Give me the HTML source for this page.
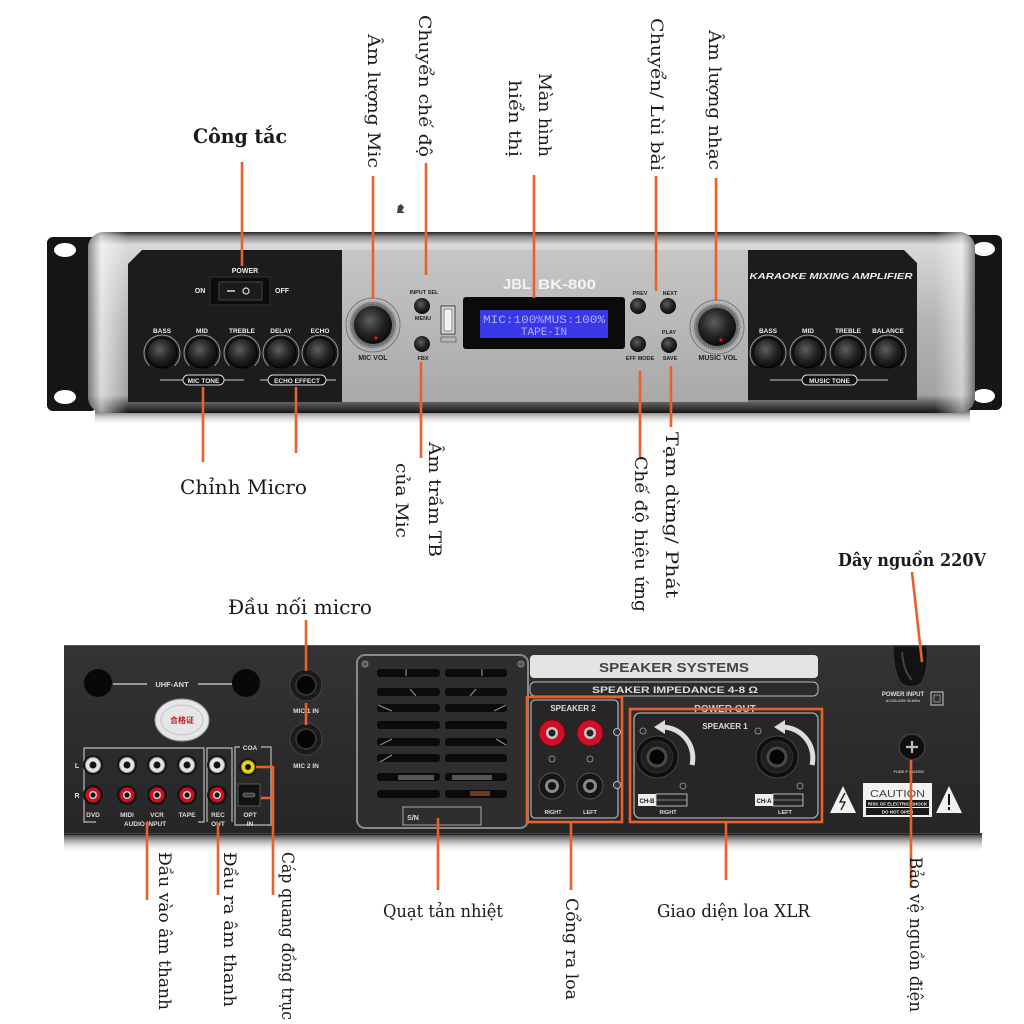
<!DOCTYPE html>
<html><head><meta charset="utf-8">
<style>html,body{margin:0;padding:0;background:#fff}svg{display:block}</style>
</head><body>
<svg width="1024" height="1024" viewBox="0 0 1024 1024" xmlns="http://www.w3.org/2000/svg">
<defs>
 <radialGradient id="knob" cx="42%" cy="38%" r="65%"><stop offset="0" stop-color="#5e5e5e"/><stop offset="0.55" stop-color="#252525"/><stop offset="1" stop-color="#080808"/></radialGradient>
 <linearGradient id="body" x1="0" y1="0" x2="0" y2="1">
  <stop offset="0" stop-color="#222"/><stop offset="0.025" stop-color="#8a8a8a"/><stop offset="0.07" stop-color="#d9d9d9"/><stop offset="0.5" stop-color="#b4b4b4"/><stop offset="0.9" stop-color="#a2a2a2"/><stop offset="0.95" stop-color="#555"/><stop offset="1" stop-color="#151515"/>
 </linearGradient>
 <linearGradient id="ends" x1="0" y1="0" x2="1" y2="0">
  <stop offset="0" stop-color="#666" stop-opacity="0.7"/><stop offset="0.015" stop-color="#fff" stop-opacity="0.6"/><stop offset="0.045" stop-color="#fff" stop-opacity="0"/><stop offset="0.955" stop-color="#fff" stop-opacity="0"/><stop offset="0.985" stop-color="#fff" stop-opacity="0.5"/><stop offset="1" stop-color="#555" stop-opacity="0.7"/>
 </linearGradient>
 <linearGradient id="center" x1="0" y1="0" x2="0" y2="1"><stop offset="0" stop-color="#c6c6c6"/><stop offset="1" stop-color="#a9a9a9"/></linearGradient>
 <linearGradient id="shadowF" x1="0" y1="0" x2="0" y2="1"><stop offset="0" stop-color="#333" stop-opacity="0.8"/><stop offset="1" stop-color="#fff" stop-opacity="0"/></linearGradient>
 <linearGradient id="rear" x1="0" y1="0" x2="0" y2="1"><stop offset="0" stop-color="#343434"/><stop offset="0.5" stop-color="#2c2c2c"/><stop offset="1" stop-color="#262626"/></linearGradient>
 <linearGradient id="shadowR" x1="0" y1="0" x2="0" y2="1"><stop offset="0" stop-color="#111" stop-opacity="0.95"/><stop offset="1" stop-color="#fff" stop-opacity="0"/></linearGradient>
</defs>

<rect width="1024" height="1024" fill="#fff"/>

<!-- ================= FRONT PANEL ================= -->
<!-- rack ears -->
<rect x="47" y="237" width="50" height="174" rx="6" fill="#151515"/>
<ellipse cx="65" cy="250" rx="11" ry="7" fill="#fff"/>
<ellipse cx="65" cy="397" rx="11" ry="7" fill="#fff"/>
<rect x="948" y="235" width="54" height="175" rx="6" fill="#151515"/>
<ellipse cx="984" cy="249" rx="11" ry="7" fill="#fff"/>
<ellipse cx="984" cy="396" rx="11" ry="7" fill="#fff"/>
<!-- shadow under front -->
<rect x="95" y="410" width="875" height="16" fill="url(#shadowF)"/>
<!-- body -->
<rect x="88" y="232" width="887" height="181" rx="16" fill="url(#body)"/>
<rect x="88" y="232" width="887" height="181" rx="16" fill="url(#ends)"/>
<!-- center silver -->
<rect x="342" y="250" width="406" height="152" fill="url(#center)"/>
<!-- black panels -->
<path d="M142,250 H342 V402 H128 V264 Z" fill="#1c1c1c"/>
<path d="M748,250 H904 L917,263 V400 H748 Z" fill="#1c1c1c"/>

<g font-family="Liberation Sans, sans-serif" font-weight="bold" text-anchor="middle">
 <!-- power -->
 <text x="245" y="273" font-size="7" fill="#eee">POWER</text>
 <text x="200" y="293" font-size="7" fill="#eee">ON</text>
 <text x="282" y="293" font-size="7" fill="#eee">OFF</text>
 <rect x="210" y="277" width="60" height="28" fill="#0c0c0c" stroke="#333"/>
 <rect x="219" y="282" width="43" height="18" fill="#1b1b1b" stroke="#444"/>
 <line x1="227" y1="291" x2="235" y2="291" stroke="#ddd" stroke-width="1.5"/>
 <circle cx="246" cy="291" r="3" fill="none" stroke="#ddd" stroke-width="1.2"/>
 <!-- left tone knobs -->
 <g font-size="6.5" fill="#eee">
  <text x="162" y="333">BASS</text><text x="202" y="333">MID</text><text x="242" y="333">TREBLE</text><text x="281" y="333">DELAY</text><text x="320" y="333">ECHO</text>
 </g>
 <g fill="none" stroke="#999" stroke-width="1">
  <path d="M149.3,365.7 A18,18 0 1 1 174.7,365.7"/>
  <path d="M189.3,365.7 A18,18 0 1 1 214.7,365.7"/>
  <path d="M229.3,365.7 A18,18 0 1 1 254.7,365.7"/>
  <path d="M268.3,365.7 A18,18 0 1 1 293.7,365.7"/>
  <path d="M307.3,365.7 A18,18 0 1 1 332.7,365.7"/>
 </g>
 <g fill="url(#knob)" stroke="#000">
  <circle cx="162" cy="353" r="15"/><circle cx="202" cy="353" r="15"/><circle cx="242" cy="353" r="15"/><circle cx="281" cy="353" r="15"/><circle cx="320" cy="353" r="15"/>
 </g>
 <g stroke="#ccc" stroke-width="1">
  <line x1="160" y1="380" x2="183" y2="380"/><line x1="224" y1="380" x2="244" y2="380"/>
  <line x1="260" y1="380" x2="268" y2="380"/><line x1="326" y1="380" x2="336" y2="380"/>
 </g>
 <rect x="183" y="375" width="41" height="10" rx="5" fill="#111" stroke="#ddd"/>
 <text x="203.5" y="383" font-size="6.5" fill="#eee">MIC TONE</text>
 <rect x="268" y="375" width="58" height="10" rx="5" fill="#111" stroke="#ddd"/>
 <text x="297" y="383" font-size="6.5" fill="#eee">ECHO EFFECT</text>

 <!-- MIC VOL -->
 <circle cx="373" cy="325" r="27" fill="none" stroke="#777" stroke-width="1"/>
 <circle cx="373" cy="325" r="23" fill="#6d6d6d" stroke="#9a9a9a" stroke-width="4" stroke-dasharray="1 1.3"/>
 <circle cx="373" cy="325" r="19" fill="url(#knob)"/>
 <circle cx="376" cy="338" r="1.6" fill="#e11"/>
 <text x="373" y="360" font-size="7" fill="#222">MIC VOL</text>
 <!-- input sel / fbx -->
 <text x="424" y="294" font-size="5.5" fill="#222">INPUT SEL</text>
 <circle cx="422" cy="306" r="8" fill="url(#knob)"/>
 <text x="423" y="320" font-size="5.5" fill="#222">MENU</text>
 <circle cx="422" cy="344" r="8" fill="url(#knob)"/>
 <text x="423" y="360" font-size="5.5" fill="#222">FBX</text>
 <!-- USB -->
 <rect x="441" y="306" width="14" height="28" fill="#d8d8d8" stroke="#444"/>
 <rect x="444" y="309" width="8" height="22" fill="#f2f2f2" stroke="#888"/>
 <rect x="441" y="337" width="15" height="5" fill="none" stroke="#666" stroke-width="0.8"/>
 <!-- LCD -->
 <rect x="463" y="297" width="162" height="52" rx="3" fill="#0b0b0b"/>
 <rect x="480" y="310" width="128" height="28" fill="#3838e6"/>
 <text x="544" y="323" font-family="Liberation Mono, monospace" font-weight="normal" font-size="11" fill="#a9b2ff" textLength="122" lengthAdjust="spacingAndGlyphs">MIC:100%MUS:100%</text>
 <text x="544" y="335" font-family="Liberation Mono, monospace" font-weight="normal" font-size="11" fill="#a9b2ff">TAPE-IN</text>
 <text x="517" y="289" font-size="15" fill="#f2f2f2" textLength="28" lengthAdjust="spacingAndGlyphs">JBL</text>
 <text x="567" y="289" font-size="14" fill="#f5f5f5" textLength="58" lengthAdjust="spacingAndGlyphs">BK-800</text>
 <!-- prev/next -->
 <text x="640" y="295" font-size="5.5" fill="#222">PREV</text>
 <text x="670" y="295" font-size="5.5" fill="#222">NEXT</text>
 <circle cx="638" cy="306" r="8" fill="url(#knob)"/>
 <circle cx="668" cy="306" r="8" fill="url(#knob)"/>
 <text x="669" y="334" font-size="5.5" fill="#222">PLAY</text>
 <circle cx="638" cy="344" r="8" fill="url(#knob)"/>
 <circle cx="669" cy="345" r="8" fill="url(#knob)"/>
 <text x="640" y="360" font-size="5.5" fill="#222">EFF MODE</text>
 <text x="670" y="360" font-size="5.5" fill="#222">SAVE</text>
 <!-- MUSIC VOL -->
 <circle cx="717" cy="327" r="27" fill="none" stroke="#777" stroke-width="1"/>
 <circle cx="717" cy="327" r="23" fill="#6d6d6d" stroke="#9a9a9a" stroke-width="4" stroke-dasharray="1 1.3"/>
 <circle cx="717" cy="327" r="19" fill="url(#knob)"/>
 <circle cx="721" cy="340" r="1.6" fill="#e11"/>
 <text x="718" y="360" font-size="7" fill="#222">MUSIC VOL</text>
 <!-- right panel -->
 <text x="831" y="279" font-size="8.5" font-style="italic" fill="#eee" textLength="163" lengthAdjust="spacingAndGlyphs">KARAOKE MIXING AMPLIFIER</text>
 <g font-size="6.5" fill="#eee">
  <text x="768" y="333">BASS</text><text x="808" y="333">MID</text><text x="848" y="333">TREBLE</text><text x="888" y="333">BALANCE</text>
 </g>
 <g fill="none" stroke="#999" stroke-width="1">
  <path d="M755.3,365.7 A18,18 0 1 1 780.7,365.7"/>
  <path d="M795.3,365.7 A18,18 0 1 1 820.7,365.7"/>
  <path d="M835.3,365.7 A18,18 0 1 1 860.7,365.7"/>
  <path d="M875.3,365.7 A18,18 0 1 1 900.7,365.7"/>
 </g>
 <g fill="url(#knob)" stroke="#000">
  <circle cx="768" cy="353" r="15"/><circle cx="808" cy="353" r="15"/><circle cx="848" cy="353" r="15"/><circle cx="888" cy="353" r="15"/>
 </g>
 <line x1="770" y1="380" x2="802" y2="380" stroke="#ccc"/><line x1="857" y1="380" x2="888" y2="380" stroke="#ccc"/>
 <rect x="802" y="375" width="55" height="10" rx="5" fill="#111" stroke="#ddd"/>
 <text x="829.5" y="383" font-size="6.5" fill="#eee">MUSIC TONE</text>
</g>
<path d="M398,206 l3,-2 l3,3 l-2,4 l3,2 h-8 z" fill="#444"/>

<!-- ================= REAR PANEL ================= -->
<rect x="64" y="833" width="918" height="20" fill="url(#shadowR)"/>
<rect x="64" y="645" width="916" height="190" fill="url(#rear)"/>
<line x1="64" y1="645.5" x2="980" y2="645.5" stroke="#555"/>
<line x1="64" y1="833.5" x2="980" y2="833.5" stroke="#444"/>

<g font-family="Liberation Sans, sans-serif" font-weight="bold" text-anchor="middle" fill="#ddd">
 <!-- UHF -->
 <circle cx="98" cy="683" r="14" fill="#080808"/>
 <circle cx="246" cy="683" r="14" fill="#080808"/>
 <line x1="113" y1="684" x2="147" y2="684" stroke="#bbb" stroke-width="1.5"/>
 <line x1="198" y1="684" x2="232" y2="684" stroke="#bbb" stroke-width="1.5"/>
 <text x="172" y="687" font-size="7.5">UHF-ANT</text>
 <!-- sticker -->
 <ellipse cx="182" cy="720" rx="27" ry="21" fill="#e6e6e6" stroke="#999"/>
 <ellipse cx="182" cy="720" rx="21" ry="15" fill="none" stroke="#bbb" stroke-width="0.8"/>
 <text x="182" y="723" font-size="8" fill="#c01818" font-family="Noto Sans CJK SC, sans-serif">合格证</text>
 <!-- boxes -->
 <g fill="none" stroke="#bbb" stroke-width="1.2">
  <path d="M96,822 H84 V748 H204 V822 H198"/>
  <path d="M207,822 V748 H232 V822"/>
  <path d="M240,747 H235 V825 H271 V747 H261"/>
 </g>
 <text x="77" y="768" font-size="7">L</text>
 <text x="77" y="798" font-size="7">R</text>
 <!-- RCA white -->
 <g>
  <circle cx="93" cy="765" r="10" fill="#151515"/><circle cx="93" cy="765" r="7.5" fill="#e4e4e4" stroke="#999"/><circle cx="93" cy="765" r="3.5" fill="#111"/>
  <circle cx="127" cy="765" r="10" fill="#151515"/><circle cx="127" cy="765" r="7.5" fill="#e4e4e4" stroke="#999"/><circle cx="127" cy="765" r="3.5" fill="#111"/>
  <circle cx="157" cy="765" r="10" fill="#151515"/><circle cx="157" cy="765" r="7.5" fill="#e4e4e4" stroke="#999"/><circle cx="157" cy="765" r="3.5" fill="#111"/>
  <circle cx="187" cy="765" r="10" fill="#151515"/><circle cx="187" cy="765" r="7.5" fill="#e4e4e4" stroke="#999"/><circle cx="187" cy="765" r="3.5" fill="#111"/>
  <circle cx="217" cy="765" r="10" fill="#151515"/><circle cx="217" cy="765" r="7.5" fill="#e4e4e4" stroke="#999"/><circle cx="217" cy="765" r="3.5" fill="#111"/>
  <circle cx="248" cy="767" r="9" fill="#151515"/><circle cx="248" cy="767" r="6.5" fill="#e8d22a" stroke="#b09a10"/><circle cx="248" cy="767" r="3" fill="#111"/>
 </g>
 <!-- RCA red -->
 <g>
  <circle cx="93" cy="795" r="10" fill="#151515"/><circle cx="93" cy="795" r="7.5" fill="#cc1020"/><circle cx="93" cy="795" r="4" fill="#ddd"/><circle cx="93" cy="795" r="2.6" fill="#111"/>
  <circle cx="127" cy="795" r="10" fill="#151515"/><circle cx="127" cy="795" r="7.5" fill="#cc1020"/><circle cx="127" cy="795" r="4" fill="#ddd"/><circle cx="127" cy="795" r="2.6" fill="#111"/>
  <circle cx="157" cy="795" r="10" fill="#151515"/><circle cx="157" cy="795" r="7.5" fill="#cc1020"/><circle cx="157" cy="795" r="4" fill="#ddd"/><circle cx="157" cy="795" r="2.6" fill="#111"/>
  <circle cx="187" cy="795" r="10" fill="#151515"/><circle cx="187" cy="795" r="7.5" fill="#cc1020"/><circle cx="187" cy="795" r="4" fill="#ddd"/><circle cx="187" cy="795" r="2.6" fill="#111"/>
  <circle cx="217" cy="795" r="10" fill="#151515"/><circle cx="217" cy="795" r="7.5" fill="#cc1020"/><circle cx="217" cy="795" r="4" fill="#ddd"/><circle cx="217" cy="795" r="2.6" fill="#111"/>
 </g>
 <!-- optical -->
 <rect x="238" y="784" width="22" height="22" fill="#111" stroke="#555"/>
 <rect x="243" y="793" width="12" height="4" rx="2" fill="#444" stroke="#999" stroke-width="0.6"/>
 <g font-size="6.5">
  <text x="250" y="750">COA</text>
  <text x="93" y="817">DVD</text><text x="127" y="817">MIDI</text><text x="157" y="817">VCR</text><text x="187" y="817">TAPE</text>
  <text x="145" y="826">AUDIO INPUT</text>
  <text x="218" y="817">REC</text><text x="218" y="826">OUT</text>
  <text x="250" y="817">OPT</text><text x="250" y="826">IN</text>
 </g>
 <!-- MIC jacks -->
 <circle cx="306" cy="685" r="16" fill="#1b1b1b" stroke="#444"/>
 <circle cx="306" cy="685" r="10" fill="#050505" stroke="#333" stroke-width="2"/>
 <text x="306" y="713" font-size="6.5">MIC 1 IN</text>
 <circle cx="306" cy="739" r="16" fill="#1b1b1b" stroke="#444"/>
 <circle cx="306" cy="739" r="10" fill="#050505" stroke="#333" stroke-width="2"/>
 <text x="306" y="768" font-size="6.5">MIC 2 IN</text>

 <!-- fan grill -->
 <rect x="357" y="655" width="171" height="173" rx="8" fill="#2e2e2e" stroke="#8a8a8a" stroke-width="2"/>
 <circle cx="365" cy="664" r="3" fill="#555" stroke="#888"/>
 <circle cx="521" cy="664" r="3" fill="#555" stroke="#888"/>
 <g fill="#0b0b0b">
  <rect x="377" y="669" width="63" height="8" rx="3"/><rect x="445" y="669" width="62" height="8" rx="3"/>
  <rect x="377" y="688" width="63" height="8" rx="3"/><rect x="445" y="688" width="62" height="8" rx="3"/>
  <rect x="377" y="704" width="63" height="8" rx="3"/><rect x="445" y="704" width="62" height="8" rx="3"/>
  <rect x="377" y="721" width="63" height="8" rx="3"/><rect x="445" y="721" width="62" height="8" rx="3"/>
  <rect x="377" y="738" width="63" height="8" rx="3"/><rect x="445" y="738" width="62" height="8" rx="3"/>
  <rect x="377" y="754" width="63" height="8" rx="3"/><rect x="445" y="754" width="62" height="8" rx="3"/>
  <rect x="377" y="773" width="63" height="8" rx="3"/><rect x="445" y="773" width="62" height="8" rx="3"/>
  <rect x="377" y="790" width="63" height="8" rx="3"/><rect x="445" y="790" width="62" height="8" rx="3"/>
 </g>
 <g stroke="#8a8a8a" stroke-width="1.2">
  <line x1="406" y1="669" x2="406" y2="676"/><line x1="482" y1="669" x2="482" y2="676"/>
  <line x1="410" y1="689" x2="416" y2="696"/><line x1="470" y1="696" x2="476" y2="689"/>
  <line x1="378" y1="705" x2="392" y2="711"/><line x1="494" y1="711" x2="506" y2="705"/>
  <line x1="380" y1="745" x2="392" y2="739"/><line x1="496" y1="739" x2="506" y2="745"/>
  <line x1="380" y1="762" x2="392" y2="755"/>
 </g>
 <rect x="398" y="775" width="36" height="5" fill="#555"/><rect x="452" y="775" width="40" height="5" fill="#555"/>
 <rect x="470" y="791" width="20" height="5" fill="#6a3b20"/>
 <rect x="403" y="807" width="78" height="18" fill="none" stroke="#aaa"/>
 <text x="413" y="820" font-size="7" fill="#ddd">S/N</text>

 <!-- speaker systems -->
 <rect x="530" y="655" width="288" height="23" rx="4" fill="#e4e4e4"/>
 <text x="674" y="672" font-size="13" fill="#444" textLength="150" lengthAdjust="spacingAndGlyphs">SPEAKER SYSTEMS</text>
 <rect x="530" y="682" width="288" height="14" rx="5" fill="#2a2a2a" stroke="#bbb"/>
 <text x="675" y="693" font-size="9" fill="#ddd" textLength="166" lengthAdjust="spacingAndGlyphs">SPEAKER IMPEDANCE 4-8 Ω</text>

 <!-- speaker 2 -->
 <rect x="531" y="700" width="87" height="118" rx="4" fill="#262626" stroke="#aaa" stroke-width="1.3"/>
 <text x="573" y="711" font-size="8">SPEAKER 2</text>
 <circle cx="552" cy="733" r="13" fill="#d0102a" stroke="#7a0010"/><circle cx="552" cy="733" r="6" fill="#c8c8c8"/><circle cx="552" cy="733" r="3.5" fill="#222"/>
 <circle cx="590" cy="733" r="13" fill="#d0102a" stroke="#7a0010"/><circle cx="590" cy="733" r="6" fill="#c8c8c8"/><circle cx="590" cy="733" r="3.5" fill="#222"/>
 <circle cx="552" cy="759" r="3" fill="none" stroke="#888"/><circle cx="590" cy="759" r="3" fill="none" stroke="#888"/>
 <circle cx="552" cy="786" r="13" fill="#161616" stroke="#555"/><circle cx="552" cy="786" r="7" fill="#888"/><circle cx="552" cy="786" r="4" fill="#111"/>
 <circle cx="590" cy="786" r="13" fill="#161616" stroke="#555"/><circle cx="590" cy="786" r="7" fill="#888"/><circle cx="590" cy="786" r="4" fill="#111"/>
 <circle cx="617" cy="732" r="3.5" fill="#333" stroke="#bbb"/><circle cx="617" cy="785" r="3.5" fill="#333" stroke="#bbb"/>
 <text x="553" y="814" font-size="5.5">RIGHT</text><text x="590" y="814" font-size="5.5">LEFT</text>

 <!-- power out / speaker 1 -->
 <text x="725" y="712" font-size="10" fill="#ccc">POWER OUT</text>
 <rect x="634" y="713" width="184" height="105" rx="6" fill="#262626" stroke="#aaa" stroke-width="1.3"/>
 <text x="725" y="729" font-size="8">SPEAKER 1</text>
 <g>
  <circle cx="657" cy="757" r="21" fill="#0e0e0e" stroke="#444"/>
  <circle cx="657" cy="757" r="16" fill="#1f1f1f" stroke="#333"/>
  <circle cx="657" cy="757" r="9" fill="#050505" stroke="#4a4a4a" stroke-width="3"/>
  <path d="M663,727 A31,31 0 0 1 692,765" fill="none" stroke="#ddd" stroke-width="5"/>
  <path d="M654,727 L665,720 L665,734 Z" fill="#ddd"/>
  <circle cx="777" cy="757" r="21" fill="#0e0e0e" stroke="#444"/>
  <circle cx="777" cy="757" r="16" fill="#1f1f1f" stroke="#333"/>
  <circle cx="777" cy="757" r="9" fill="#050505" stroke="#4a4a4a" stroke-width="3"/>
  <path d="M783,727 A31,31 0 0 1 812,765" fill="none" stroke="#ddd" stroke-width="5"/>
  <path d="M774,727 L785,720 L785,734 Z" fill="#ddd"/>
  <circle cx="643" cy="731" r="3" fill="none" stroke="#888"/><circle cx="683" cy="786" r="3" fill="none" stroke="#888"/>
  <circle cx="758" cy="731" r="3" fill="none" stroke="#888"/><circle cx="800" cy="786" r="3" fill="none" stroke="#888"/>
 </g>
 <rect x="638" y="794" width="18" height="12" fill="#eee"/><text x="647" y="803" font-size="6" fill="#111">CH-B</text>
 <rect x="656" y="794" width="31" height="12" fill="none" stroke="#ddd" stroke-width="0.8"/>
 <line x1="656" y1="800" x2="687" y2="800" stroke="#ddd" stroke-width="0.6"/>
 <text x="668" y="814" font-size="5.5">RIGHT</text>
 <rect x="755" y="794" width="18" height="12" fill="#eee"/><text x="764" y="803" font-size="6" fill="#111">CH-A</text>
 <rect x="773" y="794" width="30" height="12" fill="none" stroke="#ddd" stroke-width="0.8"/>
 <line x1="773" y1="800" x2="803" y2="800" stroke="#ddd" stroke-width="0.6"/>
 <text x="785" y="814" font-size="5.5">LEFT</text>

 <!-- power input -->
 <path d="M893,646 C893,660 895,672 900,682 C905,688 918,688 922,682 C927,672 928,660 927,646 Z" fill="#121212" stroke="#3a3a3a"/>
 <path d="M902,652 C903,664 906,674 912,680" fill="none" stroke="#444" stroke-width="2"/>
 <text x="903" y="696" font-size="6">POWER INPUT</text>
 <text x="903" y="702" font-size="3.5" fill="#bbb">AC200-240V 50-60Hz</text>
 <rect x="931" y="692" width="12" height="13" fill="none" stroke="#ccc"/>
 <rect x="934" y="695" width="6" height="7" fill="none" stroke="#ccc" stroke-width="0.6"/>
 <circle cx="912" cy="747" r="13" fill="#0e0e0e" stroke="#3a3a3a" stroke-width="2"/>
 <path d="M906,747 H918 M912,741 V753" stroke="#bbb" stroke-width="2.2"/>
 <text x="909" y="773" font-size="4" fill="#bbb">FUSE F 8A/250V</text>
 <!-- warnings -->
 <path d="M843,786 L856,813 L830,813 Z" fill="#f2f2f2"/>
 <path d="M845,793 L840,802 L845,802 L841,810" fill="none" stroke="#111" stroke-width="1.3"/>
 <rect x="863" y="783" width="69" height="34" fill="#f2f2f2"/>
 <text x="897.5" y="797" font-size="10" font-weight="normal" fill="#444" textLength="55" lengthAdjust="spacingAndGlyphs">CAUTION</text>
 <rect x="866" y="800" width="63" height="7" fill="#1a1a1a"/>
 <rect x="866" y="808" width="63" height="7" fill="#1a1a1a"/>
 <text x="897.5" y="805.5" font-size="4.5" fill="#eee">RISK OF ELECTRIC SHOCK</text>
 <text x="897.5" y="813.5" font-size="4.5" fill="#eee">DO NOT OPEN</text>
 <path d="M949,786 L962,813 L936,813 Z" fill="#f2f2f2"/>
 <path d="M949,794 V805 M949,807 V810" stroke="#111" stroke-width="2"/>
</g>

<!-- ================= ORANGE CONNECTORS ================= -->
<g stroke="#e8612a" stroke-width="2.6" fill="none">
 <!-- top front -->
 <line x1="242" y1="162" x2="242" y2="266"/>
 <line x1="373" y1="176" x2="373" y2="299"/>
 <line x1="426" y1="163" x2="426" y2="275"/>
 <line x1="534" y1="175" x2="534" y2="298"/>
 <line x1="656" y1="176" x2="656" y2="291"/>
 <line x1="716" y1="178" x2="716" y2="301"/>
 <!-- bottom front -->
 <line x1="203" y1="387" x2="203" y2="462"/>
 <line x1="296" y1="387" x2="296" y2="453"/>
 <line x1="421" y1="362" x2="421" y2="458"/>
 <line x1="640" y1="371" x2="640" y2="457"/>
 <line x1="671" y1="366" x2="671" y2="427"/>
 <!-- rear -->
 <line x1="306" y1="620" x2="306" y2="671"/>
 <line x1="306" y1="703" x2="306" y2="725"/>
 <line x1="912" y1="572" x2="922" y2="662"/>
 <line x1="147" y1="822" x2="147" y2="900"/>
 <line x1="218" y1="823" x2="218" y2="895"/>
 <path d="M256,767 H273 V895 M261,798 H273"/>
 <line x1="438" y1="818" x2="438" y2="890"/>
 <line x1="571" y1="822" x2="571" y2="890"/>
 <line x1="726" y1="822" x2="726" y2="880"/>
 <line x1="911" y1="760" x2="911" y2="888"/>
 <!-- boxes -->
 <rect x="527" y="697" width="95" height="125"/>
 <rect x="630" y="709" width="192" height="113"/>
</g>

<!-- ================= LABELS ================= -->
<g font-family="DejaVu Serif, Liberation Serif, serif" fill="#1a1a1a" lengthAdjust="spacingAndGlyphs">
 <text x="193" y="143" font-size="20" font-weight="bold" textLength="94" lengthAdjust="spacingAndGlyphs">Công tắc</text>
 <text x="180" y="494" font-size="20" textLength="127" lengthAdjust="spacingAndGlyphs">Chỉnh Micro</text>
 <text x="228" y="614" font-size="20" textLength="144" lengthAdjust="spacingAndGlyphs">Đầu nối micro</text>
 <text x="838" y="566" font-size="18" font-weight="bold" textLength="148" lengthAdjust="spacingAndGlyphs">Dây nguồn 220V</text>
 <text x="383" y="917" font-size="18" textLength="120" lengthAdjust="spacingAndGlyphs">Quạt tản nhiệt</text>
 <text x="657" y="917" font-size="18" textLength="153" lengthAdjust="spacingAndGlyphs">Giao diện loa XLR</text>

 <g font-size="16.5">
  <text transform="translate(368,34) rotate(90)" textLength="134" lengthAdjust="spacingAndGlyphs">Âm lượng Mic</text>
  <text transform="translate(419,15) rotate(90)" textLength="142" lengthAdjust="spacingAndGlyphs">Chuyển chế độ</text>
  <text transform="translate(539,73) rotate(90)" textLength="84" lengthAdjust="spacingAndGlyphs">Màn hình</text>
  <text transform="translate(509,80) rotate(90)" textLength="77" lengthAdjust="spacingAndGlyphs">hiển thị</text>
  <text transform="translate(651,18) rotate(90)" textLength="153" lengthAdjust="spacingAndGlyphs">Chuyển/ Lùi bài</text>
  <text transform="translate(709,30) rotate(90)" textLength="140" lengthAdjust="spacingAndGlyphs">Âm lượng nhạc</text>
  <text transform="translate(429,442) rotate(90)" textLength="115" lengthAdjust="spacingAndGlyphs">Âm trầm TB</text>
  <text transform="translate(396,463) rotate(90)" textLength="75" lengthAdjust="spacingAndGlyphs">của Mic</text>
  <text transform="translate(666,432) rotate(90)" textLength="166" lengthAdjust="spacingAndGlyphs">Tạm dừng/ Phát</text>
  <text transform="translate(635,456) rotate(90)" textLength="156" lengthAdjust="spacingAndGlyphs">Chế độ hiệu ứng</text>
  <text transform="translate(159,852) rotate(90)" textLength="158" lengthAdjust="spacingAndGlyphs">Đầu vào âm thanh</text>
  <text transform="translate(224,852) rotate(90)" textLength="155" lengthAdjust="spacingAndGlyphs">Đầu ra âm thanh</text>
  <text transform="translate(282,852) rotate(90)" textLength="168" lengthAdjust="spacingAndGlyphs">Cáp quang đồng trục</text>
  <text transform="translate(566,898) rotate(90)" textLength="102" lengthAdjust="spacingAndGlyphs">Cổng ra loa</text>
  <text transform="translate(910,857) rotate(90)" textLength="155" lengthAdjust="spacingAndGlyphs">Bảo vệ nguồn điện</text>
 </g>
</g>
</svg>
</body></html>
